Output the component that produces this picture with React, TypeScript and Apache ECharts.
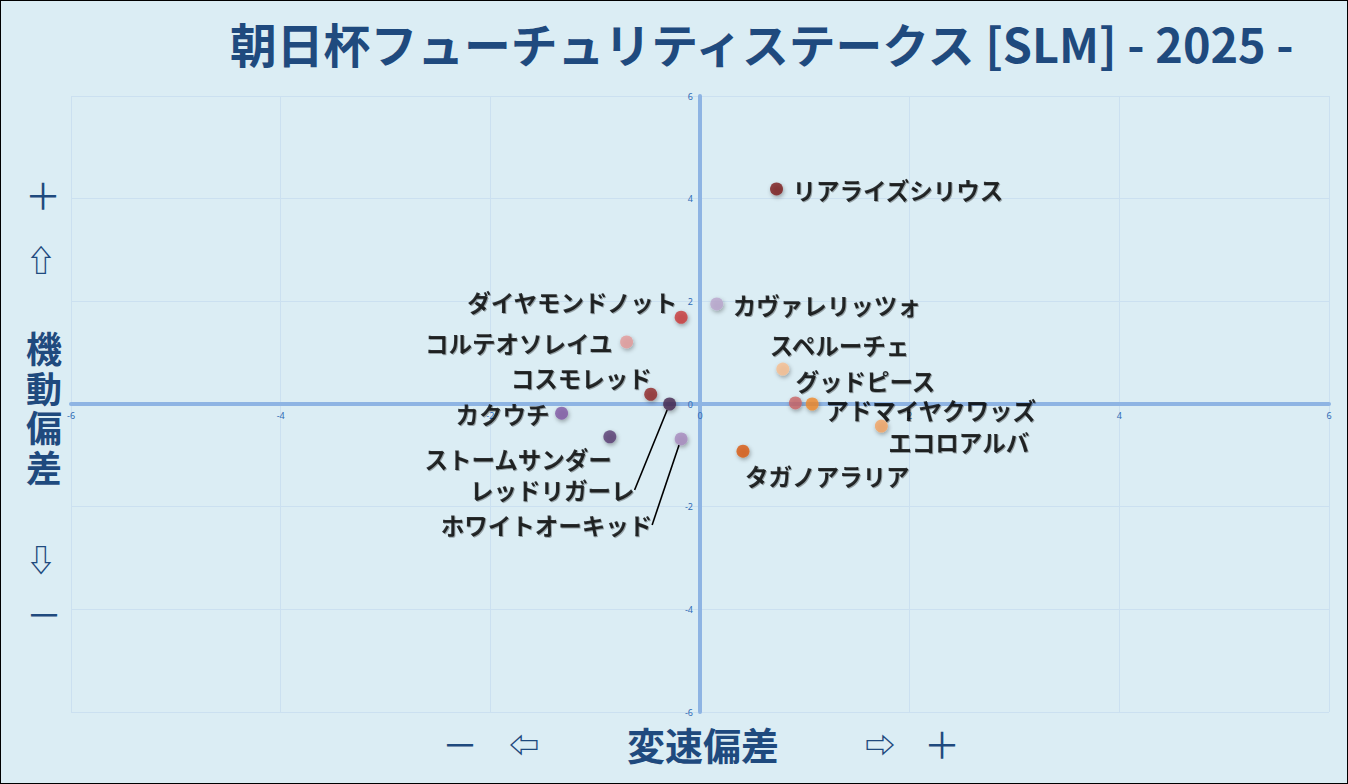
import React, { useEffect, useRef } from 'react'
import * as echarts from 'echarts'

const horseNames = [
    'リアライズシリウス',
    'カヴァレリッツォ',
    'ダイヤモンドノット',
    'コルテオソレイユ',
    'コスモレッド',
    'レッドリガーレ',
    'カクウチ',
    'ストームサンダー',
    'ホワイトオーキッド',
    'スペルーチェ',
    'グッドピース',
    'アドマイヤクワッズ',
    'エコロアルバ',
    'タガノアラリア',
]
// 変速偏差 (x) / 機動偏差 (y)
const speedDev = [0.73, 0.16, -0.18, -0.7, -0.47, -0.29, -1.32, -0.86, -0.18, 0.79, 0.91, 1.07, 1.73, 0.41]
const mobilityDev = [4.19, 1.95, 1.69, 1.21, 0.19, 0.0, -0.18, -0.64, -0.68, 0.68, 0.02, 0.0, -0.43, -0.92]
const pointColors = [
    '#7a1c1c', '#b9a5cc', '#c83a3a', '#e49a98', '#8e2424', '#44284f', '#7f58a4',
    '#573b72', '#a689bd', '#f7be8f', '#c96466', '#ef8a2a', '#f3a463', '#d9590a',
]
const axisTicks = [-6, 6, 2] // min, max, interval
const yTitleChars = ['機', '動', '偏', '差']

// label placement (align, dx, dy from point centre), leader line flag
const labelPlace: Array<[string, number, number, boolean]> = [
    ['left', 16, 1, false],
    ['left', 16, 1, false],
    ['right', -4, -15, false],
    ['right', -14, 1, false],
    ['right', 1, -16, false],
    ['right', -35, 86, true],
    ['right', -12, 1, false],
    ['right', 2, 22, false],
    ['right', -29, 86, true],
    ['left', -13, -24, false],
    ['left', 0, -22, false],
    ['left', 13, 6, false],
    ['left', 7, 16, false],
    ['left', 2, 25, false],
]

const TITLE = '朝日杯フューチュリティステークス [SLM] - 2025 -'
const NAVY = '#1f4a7e'
const JP = '"Noto Sans CJK JP", "Noto Sans", "DejaVu Sans", sans-serif'

const GRID = { left: 70, right: 18, top: 95, bottom: 71 }

const sideText = (text: string, x: number, y: number, font: string) => ({
    type: 'text',
    x,
    y,
    style: { text, font, fill: NAVY, align: 'center', verticalAlign: 'middle' },
})

const App: React.FC = () => {
    const chartRef = useRef<HTMLDivElement | null>(null)

    useEffect(() => {
        document.body.style.margin = '0'
        if (!chartRef.current) return
        const chart = echarts.init(chartRef.current, undefined, { renderer: 'svg' })

        const data = horseNames.map((name, i) => {
            const [align, dx, dy, leader] = labelPlace[i]
            return {
                name,
                value: [speedDev[i], mobilityDev[i]],
                itemStyle: { color: pointColors[i] },
                label: { align, offset: [dx, dy] },
                labelLine: { show: leader },
            }
        })

        const [min, max, interval] = axisTicks
        const plotW = 1346 - GRID.left - GRID.right
        const plotH = 782 - GRID.top - GRID.bottom
        const axisCommon = {
            type: 'value' as const,
            min,
            max,
            interval,
            axisLine: { onZero: false, lineStyle: { color: '#8eb4e3', width: 4 } },
            axisTick: { show: false },
            axisLabel: { color: '#2e6bb5', fontSize: 9, fontFamily: 'Noto Sans', margin: 7 },
            splitLine: { show: true, lineStyle: { color: '#cbe0f0', width: 1 } },
        }

        const options = {
            animation: false,
            backgroundColor: '#dbedf4',
            grid: GRID,
            // axes sit in the middle of the plot (through 0,0)
            xAxis: { ...axisCommon, offset: -plotH / 2 },
            yAxis: { ...axisCommon, offset: -plotW / 2 },
            series: [
                {
                    type: 'scatter',
                    symbolSize: 13,
                    z: 3,
                    itemStyle: {
                        shadowBlur: 4,
                        shadowColor: 'rgba(0,0,0,0.4)',
                        shadowOffsetX: 1,
                        shadowOffsetY: 2,
                    },
                    label: {
                        show: true,
                        position: 'inside',
                        formatter: '{b}',
                        fontSize: 23.5,
                        fontWeight: 'bold',
                        fontFamily: JP,
                        color: '#000',
                        verticalAlign: 'middle',
                        textShadowColor: 'rgba(0,0,0,0.4)',
                        textShadowOffsetX: 1,
                        textShadowOffsetY: 1,
                        textShadowBlur: 1,
                    },
                    labelLine: { show: false, lineStyle: { color: '#000', width: 1.6 } },
                    data,
                },
            ],
            graphic: [
                {
                    type: 'text',
                    left: 229,
                    top: 18,
                    style: { text: TITLE, font: `bold 46.8px ${JP}`, fill: NAVY },
                },
                sideText('＋', 42, 193, `36px ${JP}`),
                sideText('⇧', 40, 257, `bold 30px ${JP}`),
                ...yTitleChars.map((ch, i) => sideText(ch, 43, 346 + i * 39.5, `bold 36px ${JP}`)),
                sideText('⇩', 40, 557, `bold 30px ${JP}`),
                sideText('－', 43, 612, `36px ${JP}`),
                sideText('－', 459, 742, `36px ${JP}`),
                sideText('⇦', 523, 742, `bold 30px ${JP}`),
                sideText('変速偏差', 702, 742, `bold 38px ${JP}`),
                sideText('⇨', 879, 742, `bold 30px ${JP}`),
                sideText('＋', 941, 742, `36px ${JP}`),
            ],
        }

        chart.setOption(options as any)

        const handleResize = () => chart.resize()
        window.addEventListener('resize', handleResize)
        return () => {
            window.removeEventListener('resize', handleResize)
            chart.dispose()
        }
    }, [])

    return (
        <div
            ref={chartRef}
            style={{ width: 1348, height: 784, border: '1px solid #000', boxSizing: 'border-box' }}
        />
    )
}

export default App
